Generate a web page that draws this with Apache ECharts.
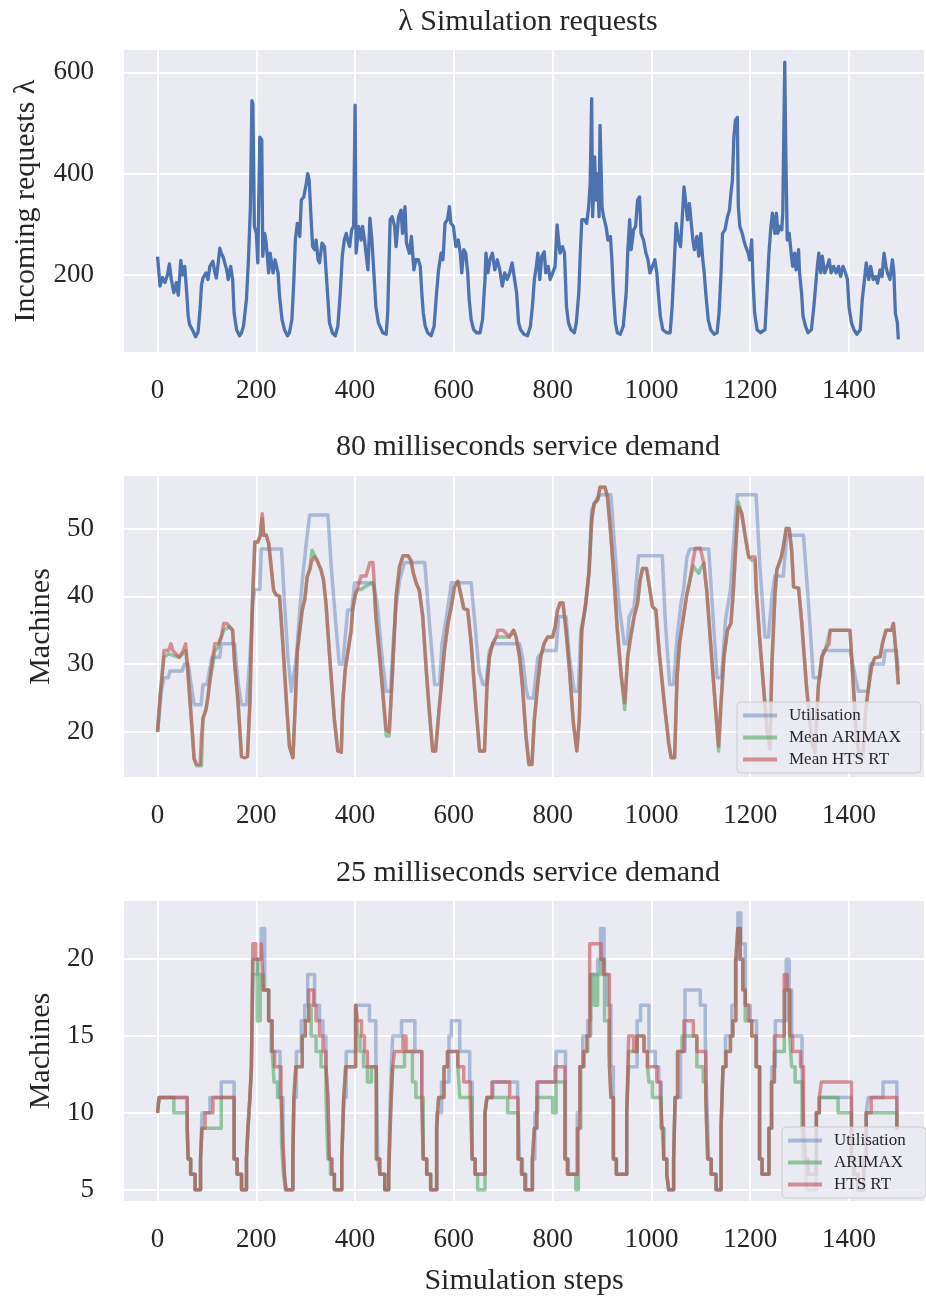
<!DOCTYPE html>
<html>
<head>
<meta charset="utf-8">
<script src="https://cdn.jsdelivr.net/npm/echarts@6/dist/echarts.min.js"></script>
<style>
  html, body { margin: 0; padding: 0; background: #fff; }
  #chart { width: 926px; height: 1297px; }
</style>
</head>
<body>
<div id="chart"></div>
<script>
// incoming requests per simulation step [step, requests]
const requests = [
  [0,236],[5,178],[10,195],[15,185],[20,200],[24,222],[28,190],[33,165],[38,185],[42,160],[47,229],[51,200],[55,217],[59,165],
  [62,119],[65,102],[72,89],[77,78],[82,87],[86,132],[89,181],[92,194],[98,204],[102,191],[106,217],[112,227],[116,205],[119,194],
  [123,225],[126,253],[129,243],[133,235],[136,224],[140,210],[143,191],[148,217],[152,191],[155,125],[160,92],[166,80],[170,86],
  [174,99],[180,152],[184,230],[188,335],[191,544],[193,538],[196,296],[200,282],[203,224],[207,472],[211,466],[213,237],[217,282],
  [220,263],[225,204],[228,243],[234,204],[238,230],[244,204],[247,158],[252,112],[257,92],[263,80],[267,86],[272,112],[276,191],
  [279,269],[283,302],[288,276],[291,348],[296,354],[301,380],[304,400],[307,387],[311,309],[314,256],[318,250],[321,269],[325,230],
  [328,224],[333,263],[338,256],[341,210],[345,152],[348,106],[354,86],[360,80],[365,99],[370,165],[374,237],[378,269],[382,282],
  [386,265],[389,256],[393,289],[397,296],[400,535],[402,243],[407,296],[412,269],[415,296],[419,270],[422,243],[426,210],[430,312],
  [434,269],[438,204],[442,138],[447,106],[456,86],[463,83],[466,125],[471,309],[475,315],[480,296],[483,256],[488,315],[493,328],
  [496,282],[501,335],[504,263],[510,243],[514,276],[519,210],[523,230],[528,230],[532,217],[535,165],[538,125],[542,99],[547,86],
  [554,80],[560,99],[565,165],[569,210],[574,243],[578,230],[582,302],[587,309],[591,335],[594,302],[599,296],[604,256],[609,269],
  [613,243],[616,204],[620,250],[624,243],[628,204],[631,152],[635,112],[640,92],[646,86],[653,86],[658,112],[663,191],[665,243],
  [669,204],[673,230],[678,243],[683,210],[688,230],[693,210],[698,178],[703,204],[708,191],[713,204],[718,224],[723,191],[727,165],
  [731,106],[735,92],[742,83],[749,80],[755,99],[759,138],[763,191],[767,217],[770,243],[774,191],[778,237],[783,246],[786,204],
  [791,217],[795,191],[800,204],[805,217],[809,299],[812,269],[815,243],[820,256],[824,243],[828,138],[832,106],[837,92],[844,86],
  [848,106],[853,165],[856,243],[859,309],[864,309],[869,302],[873,335],[876,380],[879,548],[881,315],[885,433],[888,348],[891,400],
  [894,315],[896,495],[900,335],[903,315],[908,296],[912,269],[917,276],[920,230],[923,165],[927,106],[931,86],[937,83],[943,99],
  [949,165],[952,243],[956,309],[959,250],[964,289],[968,296],[972,348],[976,354],[979,282],[984,269],[989,243],[993,230],[997,204],
  [1002,217],[1007,230],[1011,204],[1014,165],[1018,119],[1023,92],[1031,86],[1038,86],[1042,138],[1046,217],[1050,302],[1055,269],
  [1059,256],[1063,322],[1066,374],[1069,348],[1073,309],[1077,341],[1080,309],[1084,269],[1087,250],[1092,276],[1096,237],[1100,282],
  [1104,230],[1107,204],[1110,165],[1115,112],[1120,92],[1127,83],[1133,86],[1137,125],[1141,204],[1144,282],[1149,289],[1154,315],
  [1158,328],[1161,361],[1164,387],[1167,472],[1170,505],[1174,511],[1176,335],[1179,296],[1184,282],[1187,269],[1191,256],[1196,243],
  [1199,230],[1203,269],[1206,184],[1209,125],[1214,92],[1221,86],[1230,92],[1234,165],[1238,243],[1242,296],[1245,322],[1250,282],
  [1253,322],[1256,282],[1260,296],[1264,289],[1266,322],[1270,620],[1272,453],[1275,269],[1279,282],[1283,243],[1286,217],[1290,243],
  [1293,210],[1298,250],[1300,204],[1304,165],[1307,119],[1312,99],[1317,86],[1324,92],[1329,138],[1333,184],[1336,217],[1339,243],
  [1343,204],[1346,237],[1351,204],[1356,217],[1360,230],[1364,204],[1369,217],[1374,204],[1379,217],[1383,197],[1388,217],[1393,204],
  [1397,191],[1400,138],[1405,106],[1410,92],[1416,83],[1423,92],[1427,152],[1430,178],[1435,224],[1440,191],[1444,217],[1449,191],
  [1454,197],[1458,184],[1463,210],[1467,197],[1471,243],[1475,217],[1478,204],[1483,191],[1488,230],[1491,204],[1494,125],[1498,106],
  [1500,73]
];

// 80 ms service demand: machines [step, machines]
const util80 = [
  [0,20],[8,26.2],[13,28],[22,28],[25,29],[50,29],[54,30],[62,30],[66,28],[70,28],[74,24],[88,24],[92,27],[100,27],[110,31],
  [126,31],[129,33],[156,33],[163,27.2],[170,24],[180,24],[187,31],[193,39],[197,41],[207,41],[210,47],[251,47],[257,39],[264,31],
  [271,26],[275,26],[281,31],[288,38],[294,43],[301,47.8],[308,52],[345,52],[352,44],[362,35],[368,30],[375,30],[385,38],[393,38],
  [399,42],[436,42],[442,40],[446,38],[456,30],[463,26],[472,26],[477,33],[483,38.5],[490,42.4],[500,45],[541,45],[550,36.5],
  [561,27],[571,27],[576,33],[585,37],[595,42],[635,42],[642,36.5],[651,29],[659,27],[665,27],[672,32],[679,33],[733,33],[739,31],
  [745,27],[750,25],[761,25],[770,31],[781,32],[807,32],[812,37],[827,37],[834,31],[840,28],[844,26],[852,26],[857,35],[866,38],
  [873,43],[879,52.7],[888,54.2],[896,55],[918,55],[924,48.8],[934,39],[945,33],[951,33],[955,37],[965,38.5],[974,46],[1022,46],
  [1028,36.5],[1037,27],[1045,27],[1052,34],[1060,39],[1065,41],[1072,45.8],[1078,47],[1116,47],[1123,39],[1133,28],[1142,28],
  [1150,36.5],[1160,41],[1170,51.7],[1174,55],[1212,55],[1220,44],[1230,34],[1237,34],[1244,40],[1250,43],[1267,43],[1274,49],
  [1308,49],[1318,39],[1328,28],[1341,28],[1348,32],[1402,32],[1410,29.2],[1419,26],[1439,26],[1443,30],[1470,30],[1473,32],
  [1496,32],[1500,29]
];
const arimax80 = [
  [0,20],[5,25.2],[9,28.2],[13,31],[22,31.5],[44,31],[57,32],[61,29.2],[65,25.2],[70,20.3],[74,16],[79,15],[89,15],[92,22],
  [98,23.3],[102,25.2],[107,28],[112,30],[116,32],[123,32.5],[129,34],[134,35],[146,35.5],[152,35],[156,30.1],[163,24.3],[170,16.4],
  [176,16.2],[182,16.4],[187,24.3],[192,39],[197,48],[203,48],[208,49],[212,51.5],[215,49],[220,49],[225,47.8],[230,44.4],[235,40.9],
  [240,40.2],[247,40],[254,32.6],[261,24.3],[267,17.9],[274,16.2],[279,24.3],[283,31.9],[288,35],[293,38],[298,39.5],[303,42.9],
  [308,43.9],[313,46.8],[318,46],[323,45.3],[331,43.9],[336,42.4],[341,39],[348,31.6],[358,21.8],[365,17.2],[372,17],[375,24.3],
  [380,29.2],[387,32.6],[392,35],[395,38],[401,40.4],[405,41],[412,41],[422,41.5],[436,42],[438,41.5],[442,37],[452,29.2],
  [463,19.4],[469,19.4],[476,29.2],[483,40],[490,44.4],[497,46],[507,46],[513,45.3],[518,43.4],[524,41.9],[530,40.9],[537,37],
  [544,29.2],[550,23.3],[557,17.2],[563,17.2],[570,23.3],[575,27.2],[581,32.1],[588,36],[595,38.5],[601,41.4],[608,42.2],[615,40],
  [620,38.2],[628,38],[635,33.1],[644,24.3],[652,17.2],[662,17.2],[667,26.7],[672,31.1],[679,33.1],[686,34],[700,34],[712,34],
  [721,35],[726,34],[733,31.1],[739,26.7],[746,19.4],[752,15.2],[758,15.2],[763,21.8],[770,27.2],[776,31.1],[783,33.1],[790,34],
  [800,34],[805,35.5],[810,38],[815,39],[821,39],[827,35],[834,29.2],[842,21.3],[849,17.2],[854,21.8],[859,35],[867,39],[874,43.9],
  [879,51.2],[884,53.7],[891,54.2],[896,56.1],[906,56.1],[911,54.7],[917,49.8],[924,42.9],[931,35],[939,28.2],[946,23.3],[952,31.1],
  [958,34],[965,37],[972,39],[977,42.4],[982,44.1],[990,44.1],[995,41.9],[1002,38.5],[1009,38],[1016,31.6],[1026,24.3],[1035,18.4],
  [1040,16.2],[1047,16.2],[1052,28.2],[1057,33.1],[1064,36.5],[1071,40],[1078,42.4],[1085,44.5],[1089,44],[1096,43.4],[1099,44],
  [1106,44.9],[1112,40.9],[1119,34],[1129,24.3],[1136,17.2],[1141,24.3],[1147,31.1],[1154,35],[1161,36],[1166,40.9],[1172,48.8],
  [1176,53.9],[1183,52.2],[1189,49.3],[1197,45.8],[1203,45.3],[1210,45.3],[1212,41.4],[1219,34],[1227,26.7],[1234,20.3],[1240,17.5],
  [1244,30],[1250,40],[1254,43.9],[1263,45.8],[1267,47.3],[1273,50],[1279,50],[1284,46.8],[1288,41.4],[1298,41.2],[1304,36.5],
  [1314,26.7],[1325,18.4],[1331,17],[1338,26.7],[1345,31.1],[1352,32.1],[1362,35],[1402,35],[1407,29.2],[1415,19.4],[1421,16.4],
  [1428,16.4],[1434,23.3],[1439,26.2],[1446,29.7],[1452,30.9],[1463,31.1],[1468,33.1],[1475,35],[1486,35],[1490,36],[1494,36],
  [1496,31.1],[1500,27]
];
const hts80 = [
  [0,20],[5,25.2],[9,28.2],[13,32],[22,32],[27,33],[31,32],[44,31],[52,32],[57,33],[61,29.2],[65,25.2],[70,20.3],[74,16],[79,15.2],
  [86,15.2],[89,19.4],[92,22],[98,23.3],[102,25.2],[107,28.2],[112,31.1],[116,33],[123,33],[129,34],[134,36],[140,36],[146,35.5],
  [152,35],[156,30.1],[163,24.3],[170,16.4],[176,16.2],[182,16.4],[187,24.3],[192,39],[197,48],[203,48],[208,49],[212,52.2],
  [215,49],[220,49],[225,47.8],[230,44.4],[235,40.9],[240,40.2],[247,40],[254,32.6],[261,24.3],[267,17.9],[274,16.2],[279,24.3],
  [283,31.9],[288,35],[293,38],[298,39.5],[303,42.9],[308,43.9],[313,45.3],[318,45.8],[323,45.3],[331,43.9],[336,42.4],[341,39],
  [348,31.6],[358,21.8],[365,17.2],[372,17],[375,24.3],[380,29.2],[387,32.6],[392,35],[395,38],[401,40.4],[405,41.2],[412,43],
  [422,43],[430,45],[436,45],[438,42.9],[442,37],[452,29.2],[463,20.3],[469,20],[476,29.2],[483,40],[490,44.4],[497,46],[507,46],
  [513,45.3],[518,43.4],[524,41.9],[530,40.9],[537,37],[544,29.2],[550,23.3],[557,17.2],[563,17.2],[570,23.3],[575,27.2],[581,32.1],
  [588,36],[595,38.5],[601,41.4],[608,42.2],[615,40],[620,38.2],[628,38],[635,33.1],[644,24.3],[652,17.2],[662,17.2],[667,26.7],
  [672,31.1],[679,33.1],[686,34],[689,35],[700,35],[712,34],[721,35],[726,34],[733,31.1],[739,26.7],[746,19.4],[752,15.2],[758,15.2],
  [763,21.8],[770,27.2],[776,31.1],[783,33.1],[790,34],[800,34],[805,35.5],[810,38],[815,39],[821,39],[827,35],[834,29.2],[842,21.3],
  [849,17.2],[854,21.8],[859,35],[867,39],[874,43.9],[879,51.2],[884,53.7],[891,54.2],[896,56.1],[906,56.1],[911,54.7],[917,49.8],
  [924,42.9],[931,35],[939,28.2],[946,24.3],[952,31.1],[958,34],[965,37],[972,39],[977,42.4],[982,44.1],[990,44.1],[995,41.9],
  [1002,38.5],[1009,38],[1016,31.6],[1026,24.3],[1035,18.4],[1040,16.2],[1047,16.2],[1052,28.2],[1057,33.1],[1064,36.5],[1071,40],
  [1078,42.4],[1085,45.6],[1089,47.1],[1099,47.1],[1106,44.9],[1112,40.9],[1119,34],[1129,24.3],[1136,17.9],[1141,24.3],[1147,31.1],
  [1154,35],[1161,36],[1166,40.9],[1172,48.8],[1176,53.2],[1183,52.2],[1189,49.3],[1197,45.8],[1210,45.8],[1212,41.4],[1219,34],
  [1227,26.7],[1234,20.3],[1240,17.5],[1244,30],[1250,40],[1254,43.9],[1263,45.8],[1267,47.3],[1273,50],[1279,50],[1284,46.8],
  [1288,41.4],[1298,41.2],[1304,36.5],[1314,26.7],[1325,18.4],[1331,17],[1338,26.7],[1345,31.1],[1352,32.1],[1360,33],[1362,35],
  [1402,35],[1407,29.2],[1415,19.4],[1421,16.4],[1428,16.4],[1434,23.3],[1439,26.2],[1446,29.7],[1452,30.9],[1463,31.1],[1468,33.1],
  [1475,35],[1486,35],[1490,36],[1494,36],[1496,31.1],[1500,27]
];

// 25 ms service demand: machines [step where level starts, machines]
const util25 = [
  [0,10],[3,11],[60,9],[62,7],[67,6],[76,5],[87,7],[90,10],[106,11],[129,12],[155,7],[161,6],[170,5],[180,7],[183,9],[187,11],
  [190,13],[193,19],[203,20],[210,22],[217,18],[225,16],[230,14],[248,11],[254,8],[257,6],[260,5],[274,7],[276,11],[281,14],
  [291,16],[298,17],[304,19],[318,17],[328,16],[335,15],[341,13],[345,11],[348,7],[353,6],[358,5],[373,7],[377,11],[382,14],
  [402,17],[429,16],[442,14],[446,7],[450,6],[460,5],[468,7],[472,12],[476,15],[494,16],[521,14],[535,11],[538,7],[545,6],[553,5],
  [566,10],[575,12],[590,15],[595,16],[612,14],[632,12],[637,7],[643,6],[663,10],[667,11],[679,12],[729,11],[733,7],[739,6],
  [746,5],[759,7],[764,10],[770,12],[807,14],[826,7],[832,6],[850,10],[855,13],[861,15],[871,16],[877,19],[891,20],[897,22],
  [904,19],[911,17],[918,13],[923,7],[929,6],[950,10],[954,13],[971,16],[978,17],[995,14],[1008,13],[1015,12],[1020,9],[1025,7],
  [1031,6],[1035,5],[1045,7],[1048,11],[1059,14],[1068,18],[1099,17],[1109,15],[1112,11],[1116,7],[1121,6],[1131,5],[1141,9],
  [1145,13],[1150,15],[1163,17],[1170,20],[1175,23],[1181,21],[1190,17],[1200,16],[1213,13],[1219,7],[1224,6],[1238,9],[1244,13],
  [1251,16],[1273,20],[1279,18],[1284,15],[1305,13],[1308,9],[1312,7],[1314,5],[1334,10],[1340,11],[1405,7],[1410,6],[1418,5],
  [1430,7],[1435,10],[1439,11],[1469,12],[1497,9],[1500,9]
];
const arimax25 = [
  [0,10],[3,11],[33,10],[60,9],[62,7],[67,6],[76,5],[87,7],[90,9],[129,11],[155,7],[161,6],[170,5],[180,7],[183,9],[187,11],
  [190,13],[193,20],[202,16],[208,19],[214,18],[225,16],[232,14],[236,12],[243,11],[251,8],[255,6],[259,5],[274,7],[276,11],
  [280,13],[293,15],[299,16],[306,17],[311,15],[321,14],[331,13],[341,11],[345,7],[350,6],[358,5],[373,7],[377,11],[381,13],
  [401,17],[405,15],[410,14],[417,13],[425,12],[433,13],[443,7],[450,6],[460,5],[468,6],[472,10],[476,13],[500,14],[516,12],
  [523,11],[538,7],[545,6],[553,5],[565,9],[569,11],[580,13],[587,14],[608,13],[612,11],[637,7],[643,6],[648,5],[663,10],[667,11],
  [709,10],[730,7],[737,6],[744,5],[759,7],[763,9],[768,11],[800,10],[807,12],[825,7],[830,6],[847,5],[852,9],[857,13],[864,14],
  [871,15],[877,19],[884,17],[891,19],[897,20],[905,16],[914,14],[918,11],[923,7],[929,6],[950,10],[954,14],[971,15],[985,14],
  [992,13],[995,12],[1002,11],[1020,9],[1025,7],[1031,6],[1035,5],[1045,7],[1048,11],[1053,14],[1062,15],[1082,15],[1092,13],
  [1105,12],[1110,11],[1114,7],[1121,6],[1131,5],[1141,9],[1145,13],[1151,14],[1160,15],[1165,16],[1171,20],[1175,22],[1180,20],
  [1185,18],[1190,16],[1203,15],[1212,13],[1219,7],[1224,6],[1238,9],[1243,12],[1249,14],[1269,18],[1280,15],[1284,13],[1291,12],
  [1305,9],[1308,7],[1317,6],[1334,10],[1340,11],[1378,10],[1405,7],[1410,6],[1418,5],[1430,7],[1435,10],[1497,9],[1500,9]
];
const hts25 = [
  [0,10],[3,11],[60,9],[62,7],[67,6],[76,5],[87,7],[90,9],[96,10],[112,11],[155,7],[161,6],[170,5],[180,7],[183,9],[187,11],
  [190,13],[193,21],[199,20],[210,21],[214,18],[225,16],[232,14],[237,13],[250,11],[254,8],[257,6],[260,5],[274,7],[276,11],
  [280,13],[293,15],[299,16],[306,18],[316,17],[321,16],[328,15],[335,14],[341,13],[345,11],[348,7],[353,6],[358,5],[373,7],
  [377,11],[381,13],[401,17],[405,16],[413,15],[419,14],[425,13],[443,7],[450,6],[460,5],[468,6],[472,10],[476,13],[480,14],
  [497,15],[503,14],[535,11],[538,7],[545,6],[553,5],[565,9],[569,11],[580,13],[587,14],[608,13],[620,12],[633,11],[637,7],
  [643,6],[663,10],[667,11],[677,12],[713,11],[730,7],[737,6],[744,5],[759,7],[763,9],[768,12],[805,13],[825,7],[830,6],[850,9],
  [855,13],[862,14],[869,15],[875,21],[898,20],[903,19],[915,13],[918,11],[923,7],[929,6],[950,10],[954,15],[964,14],[971,15],
  [985,14],[992,13],[1011,12],[1018,11],[1022,9],[1025,7],[1031,6],[1035,5],[1045,7],[1048,11],[1053,14],[1066,16],[1085,15],
  [1092,14],[1110,11],[1114,7],[1121,6],[1131,5],[1141,9],[1145,13],[1151,14],[1160,15],[1165,16],[1171,20],[1175,22],[1180,20],
  [1185,18],[1190,17],[1197,16],[1203,15],[1212,13],[1219,7],[1224,6],[1238,9],[1243,12],[1249,15],[1269,19],[1275,18],[1280,15],
  [1286,14],[1302,13],[1308,9],[1312,7],[1317,6],[1334,10],[1340,11],[1344,12],[1405,7],[1410,6],[1418,5],[1430,7],[1435,10],
  [1445,11],[1497,9],[1500,9]
];

const xTicksMin = -70, xTicksMax = 1554;
const INK = "#262626";
const FONT = "'Liberation Serif', 'DejaVu Serif', serif";

const BLUE = "rgba(76,114,176,0.42)";
const GREEN = "rgba(85,168,104,0.6)";
const RED = "rgba(196,78,82,0.6)";

const grids = [
  { left: 123, top: 49, width: 802, height: 304 },
  { left: 123, top: 475, width: 802, height: 303 },
  { left: 123, top: 900, width: 802, height: 303 },
];

function xAxisFor(i, name) {
  return {
    type: "value", gridIndex: i, min: xTicksMin, max: xTicksMax, splitNumber: 8,
    name: name || "", nameLocation: "middle", nameGap: 64,
    nameTextStyle: { color: INK, fontFamily: FONT, fontSize: 30 },
    axisLine: { show: false }, axisTick: { show: false },
    axisLabel: { color: INK, fontFamily: FONT, fontSize: 27, margin: 24, showMinLabel: false, showMaxLabel: false,
                 formatter: v => String(v) },
    splitLine: { lineStyle: { color: "#ffffff", width: 2 } },
  };
}
function yAxisFor(i, min, max, split, name, gap) {
  return {
    type: "value", gridIndex: i, min: min, max: max, splitNumber: split,
    name: name, nameLocation: "middle", nameGap: gap, nameRotate: 90,
    nameTextStyle: { color: INK, fontFamily: FONT, fontSize: 30 },
    axisLine: { show: false }, axisTick: { show: false },
    axisLabel: { color: INK, fontFamily: FONT, fontSize: 27, margin: 29, showMinLabel: false, showMaxLabel: false },
    splitLine: { lineStyle: { color: "#ffffff", width: 2 } },
  };
}
function line(name, data, i, color, step, width) {
  return {
    name: name, type: "line", xAxisIndex: i, yAxisIndex: i, data: data,
    step: step || false, showSymbol: false, symbol: "none", color: color,
    lineStyle: { color: color, width: width || 3.5, join: "round" }, z: 2,
  };
}
function legendFor(left, top, names) {
  return {
    left: left, top: top, orient: "vertical", data: names,
    icon: "rect", itemWidth: 34, itemHeight: 4, itemGap: 5,
    backgroundColor: "rgba(234,234,242,0.8)", borderColor: "#cccccc",
    borderWidth: 1, borderRadius: 4, padding: [5, 20, 5, 6],
    textStyle: { color: INK, fontFamily: FONT, fontSize: 17, padding: [0, 0, 0, 7] },
  };
}
function title(text, y) {
  return {
    type: "text", x: 528, y: y,
    style: { text: text, fill: INK, font: "30px " + FONT, align: "center", verticalAlign: "middle" },
  };
}

const chart = echarts.init(document.getElementById("chart"), null, { renderer: "canvas" });
chart.setOption({
  animation: false,
  backgroundColor: "#ffffff",
  grid: grids.map(g => Object.assign({ show: true, backgroundColor: "#eaeaf2", borderWidth: 0 }, g)),
  xAxis: [xAxisFor(0), xAxisFor(1), xAxisFor(2, "Simulation steps")],
  yAxis: [
    yAxisFor(0, 46, 646, 3, "Incoming requests λ", 82),
    yAxisFor(1, 13.2, 57.9, 4, "Machines", 62),
    yAxisFor(2, 4.2, 23.85, 4, "Machines", 62),
  ],
  legend: [
    legendFor(737, 702, ["Utilisation", "Mean ARIMAX", "Mean HTS RT"]),
    legendFor(782, 1127, ["Utilisation", "ARIMAX", "HTS RT"]),
  ],
  graphic: [
    title("λ Simulation requests", 22),
    title("80 milliseconds service demand", 447),
    title("25 milliseconds service demand", 873),
  ],
  series: [
    line("Requests", requests, 0, "#4c72b0", false, 3.3),
    line("Utilisation", util80, 1, BLUE),
    line("Mean ARIMAX", arimax80, 1, GREEN),
    line("Mean HTS RT", hts80, 1, RED),
    line("Utilisation", util25, 2, BLUE, "end"),
    line("ARIMAX", arimax25, 2, GREEN, "end"),
    line("HTS RT", hts25, 2, RED, "end"),
  ],
});
</script>
</body>
</html>
